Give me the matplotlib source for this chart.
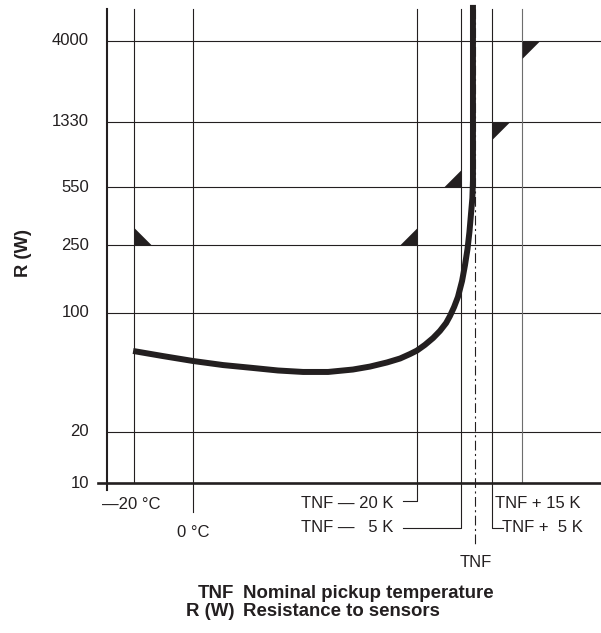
import matplotlib
matplotlib.use("Agg")
import matplotlib.pyplot as plt

plt.rcParams['font.family'] = ['Liberation Sans', 'DejaVu Sans']
plt.rcParams['lines.scale_dashes'] = False

# ---- data ----
y_ticks = [10, 20, 100, 250, 550, 1330, 4000]
y_tick_labels = ['10', '20', '100', '250', '550', '1330', '4000']

T_NF = 95.5
x_lines = [-20, 0, 76, 91, 101.5, 111.5]   # -20 °C, 0 °C, TNF-20, TNF-5, TNF+5, TNF+15

curve_t = [-20.3, -10.2, 0, 10.2, 20.3, 28.8, 37.3, 45.8, 54.2, 60.0, 65.8,
           70.2, 73.6, 75.9, 78.6, 81.4, 83.7, 85.8, 87.1, 88.5, 89.8, 91.2,
           92.2, 93.05, 93.7, 94.2, 94.7, 94.9, 94.9]
curve_r = [59.8, 55.8, 52.2, 49.4, 47.5, 45.9, 45.0, 45.0, 46.5, 48.4, 51.2,
           54.0, 57.4, 60.1, 64.9, 71.3, 78.4, 87.3, 96.0, 108.4, 124.2, 154.2,
           191.4, 237.8, 299.3, 376.8, 474.3, 605.6, 6490]

tri_t = [-20, 76, 91, 101.5, 111.5]
tri_r = [250, 250, 550, 1330, 4000]
tri_shape = ['ur', 'ul', 'ul', 'rd', 'rd']

ink = '#231f20'

fig = plt.figure(figsize=(6.01, 6.33), dpi=100)
ax = fig.add_axes([107/601, 150/633, 494/601, 474/633])
ax.set_yscale('log')
ax.set_xlim(-29.15, 138.3)
ax.set_ylim(10, 6140)
ax.axis('off')

xt = ax.get_xaxis_transform()   # x data, y axes
yt = ax.get_yaxis_transform()   # x axes, y data

# horizontal grid lines
for v in y_ticks[1:]:
    ax.plot([0, 1], [v, v], transform=yt, color=ink, lw=0.8, clip_on=False)

# vertical grid lines
greys = [ink, ink, ink, ink, ink, '#6d6d6d']
for xv, c in zip(x_lines, greys):
    ax.plot([xv, xv], [0, 1], transform=xt, color=c, lw=0.8, clip_on=False)

# leader extensions below the axis
ax.plot([0, 0], [0, -0.0612], transform=xt, color=ink, lw=0.8, clip_on=False)
ax.plot([76, 76, 71.2], [0, -0.038, -0.038], transform=xt, color=ink, lw=0.8, clip_on=False)
ax.plot([91, 91, 71.2], [0, -0.0949, -0.0949], transform=xt, color=ink, lw=0.8, clip_on=False)
ax.plot([101.5, 101.5, 105.1], [0, -0.0949, -0.0949], transform=xt, color=ink, lw=0.8, clip_on=False)

# TNF dash-dot line
ax.plot([T_NF, T_NF], [1, -0.135], transform=xt, color=ink, lw=0.8,
        linestyle=(0, (7, 2.5, 1.5, 2.5)), clip_on=False)

# axes lines
ax.plot([0, 0], [1, -0.0148], transform=ax.transAxes, color=ink, lw=1.5, clip_on=False)
ax.plot([-0.0182, 1], [0, 0], transform=ax.transAxes, color=ink, lw=1.9, clip_on=False)

# triangles
shapes = {
    'ur': [(0, 0), (0, 1), (1, 0), (0, 0)],
    'ul': [(0, 0), (0, 1), (-1, 0), (0, 0)],
    'rd': [(0, 0), (1, 0), (0, -1), (0, 0)],
}
for t, r, s in zip(tri_t, tri_r, tri_shape):
    ax.plot([t], [r], marker=shapes[s], markersize=25, mew=0, color=ink,
            linestyle='none', clip_on=False)

# curve
ax.plot(curve_t, curve_r, color=ink, lw=4.3, solid_capstyle='butt',
        solid_joinstyle='round', clip_on=False, zorder=5)

# y tick labels
for v, lab in zip(y_ticks, y_tick_labels):
    ax.text(-0.0364, v, lab, transform=yt, ha='right', va='center',
            fontsize=12, color=ink)

# x labels
fs = 12
ax.text(-20.8, -0.0464, '\u201420 °C', transform=xt, ha='center', va='center', fontsize=fs, color=ink)
ax.text(0, -0.1034, '0 °C', transform=xt, ha='center', va='center', fontsize=fs, color=ink)
ax.text(67.8, -0.0422, 'TNF \u2014 20 K', transform=xt, ha='right', va='center', fontsize=fs, color=ink)
ax.text(67.8, -0.0949, 'TNF \u2014   5 K', transform=xt, ha='right', va='center', fontsize=fs, color=ink)
ax.text(102.4, -0.0422, 'TNF + 15 K', transform=xt, ha='left', va='center', fontsize=fs, color=ink)
ax.text(104.7, -0.0949, 'TNF +  5 K', transform=xt, ha='left', va='center', fontsize=fs, color=ink)
ax.text(95.9, -0.1667, 'TNF', transform=xt, ha='center', va='center', fontsize=fs, color=ink)

# y axis label
fig.text(23/601, (633-253)/633, 'R (W)', rotation=90, ha='center', va='center',
         fontsize=13.2, fontweight='bold', color=ink)

# legend notes
lfs = 13.4
fig.text(234/601, (633-593)/633, 'TNF', ha='right', va='center', fontsize=lfs,
         fontweight='bold', color=ink)
fig.text(243/601, (633-593)/633, 'Nominal pickup temperature', ha='left', va='center',
         fontsize=lfs, fontweight='bold', color=ink)
fig.text(234/601, (633-612)/633, 'R (W)', ha='right', va='center', fontsize=lfs,
         fontweight='bold', color=ink)
fig.text(243/601, (633-612)/633, 'Resistance to sensors', ha='left', va='center',
         fontsize=lfs, fontweight='bold', color=ink)

fig.savefig('out.png', dpi=100)
